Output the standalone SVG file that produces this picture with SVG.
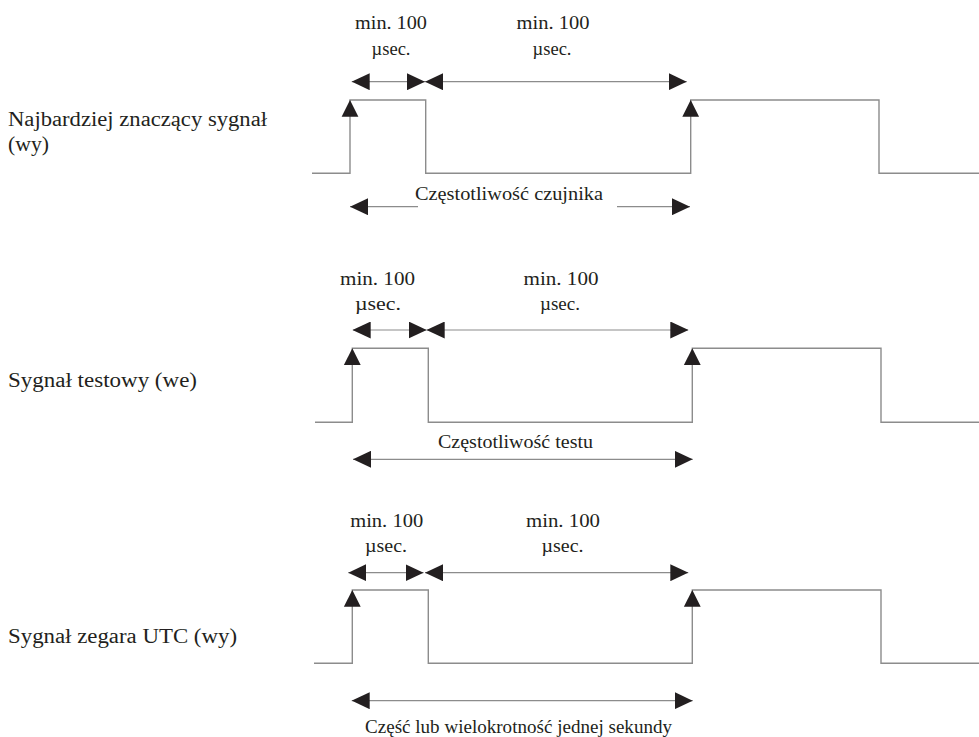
<svg xmlns="http://www.w3.org/2000/svg" width="979" height="737" viewBox="0 0 979 737">
<style>
.wave{fill:none;stroke:#8c8c8c;stroke-width:1.4}
.dim{fill:none;stroke:#8c8c8c;stroke-width:1.2;marker-start:url(#ah);marker-end:url(#ah)}
.dimE{fill:none;stroke:#8c8c8c;stroke-width:1.2;marker-end:url(#ah)}
.up{fill:#231f20}
text{font-family:"Liberation Serif","Times New Roman",serif;fill:#231f20}
.lbl{font-size:20px}
.dl{font-size:19px;text-anchor:middle}
</style>
<defs>
<marker id="ah" viewBox="-18 -8.5 18 17" refX="0" refY="0" markerWidth="18" markerHeight="17" markerUnits="userSpaceOnUse" orient="auto-start-reverse">
<path d="M0,0 L-18,-8.5 L-18,8.5 Z" fill="#231f20"/>
</marker>
</defs>

<g id="labels">
<text class="lbl" x="8" y="126" textLength="259" lengthAdjust="spacingAndGlyphs">Najbardziej znaczący sygnał</text>
<text class="lbl" x="8" y="151" textLength="41" lengthAdjust="spacingAndGlyphs">(wy)</text>
<text class="lbl" x="8" y="387" textLength="189" lengthAdjust="spacingAndGlyphs">Sygnał testowy (we)</text>
<text class="lbl" x="8" y="643" textLength="229" lengthAdjust="spacingAndGlyphs">Sygnał zegara UTC (wy)</text>
</g>

<g id="signal1">
<path class="wave" d="M312,173.3 H350 V100 H425.7 V173.3 H690.7 V100 H879 V173.3 H979"/>
<polygon class="up" points="350,100 341.6,116.7 358.4,116.7"/>
<polygon class="up" points="690.7,100 682.3,116.7 699.1,116.7"/>
<text class="dl" x="391" y="29" textLength="72" lengthAdjust="spacingAndGlyphs">min. 100</text>
<text class="dl" x="391" y="55" textLength="39" lengthAdjust="spacingAndGlyphs">µsec.</text>
<text class="dl" x="553" y="29" textLength="73" lengthAdjust="spacingAndGlyphs">min. 100</text>
<text class="dl" x="552" y="55" textLength="39" lengthAdjust="spacingAndGlyphs">µsec.</text>
<text class="dl" x="509" y="200" textLength="188" lengthAdjust="spacingAndGlyphs">Częstotliwość czujnika</text>
</g>

<g id="signal2">
<path class="wave" d="M315,422.3 H352.3 V348.3 H428.3 V422.3 H692.3 V348.3 H881 V422.3 H979"/>
<polygon class="up" points="352.3,348.3 343.9,365 360.7,365"/>
<polygon class="up" points="692.3,348.3 683.9,365 700.7,365"/>
<text class="dl" x="377.5" y="285" textLength="75" lengthAdjust="spacingAndGlyphs">min. 100</text>
<text class="dl" x="378" y="310" textLength="46" lengthAdjust="spacingAndGlyphs">µsec.</text>
<text class="dl" x="561" y="285" textLength="75" lengthAdjust="spacingAndGlyphs">min. 100</text>
<text class="dl" x="560" y="310" textLength="40" lengthAdjust="spacingAndGlyphs">µsec.</text>
<text class="dl" x="515.5" y="448" textLength="155" lengthAdjust="spacingAndGlyphs">Częstotliwość testu</text>
</g>

<g id="signal3">
<path class="wave" d="M314,663.3 H352.3 V590 H428.3 V663.3 H692.3 V590 H881 V663.3 H979"/>
<polygon class="up" points="352.3,590 343.9,606.7 360.7,606.7"/>
<polygon class="up" points="692.3,590 683.9,606.7 700.7,606.7"/>
<text class="dl" x="386.7" y="527" textLength="73" lengthAdjust="spacingAndGlyphs">min. 100</text>
<text class="dl" x="386" y="552" textLength="42" lengthAdjust="spacingAndGlyphs">µsec.</text>
<text class="dl" x="563" y="527" textLength="74" lengthAdjust="spacingAndGlyphs">min. 100</text>
<text class="dl" x="562.5" y="552" textLength="42" lengthAdjust="spacingAndGlyphs">µsec.</text>
<text class="dl" x="518.5" y="733" textLength="307" lengthAdjust="spacingAndGlyphs">Część lub wielokrotność jednej sekundy</text>
</g>

<g id="connectors">
<line class="dim" x1="351.7" y1="81.7" x2="425" y2="81.7"/>
<line class="dim" x1="425" y1="81.7" x2="686.7" y2="81.7"/>
<line class="dimE" x1="418" y1="206.7" x2="350" y2="206.7"/>
<line class="dimE" x1="617" y1="206.7" x2="690" y2="206.7"/>
<line class="dim" x1="352.7" y1="330" x2="426.7" y2="330"/>
<line class="dim" x1="426.7" y1="330" x2="688.3" y2="330"/>
<line class="dim" x1="353" y1="459.3" x2="692.7" y2="459.3"/>
<line class="dim" x1="348.3" y1="572.7" x2="423.5" y2="572.7"/>
<line class="dim" x1="425" y1="572.7" x2="688.3" y2="572.7"/>
<line class="dim" x1="351.7" y1="700.7" x2="692.7" y2="700.7"/>
</g>
</svg>
